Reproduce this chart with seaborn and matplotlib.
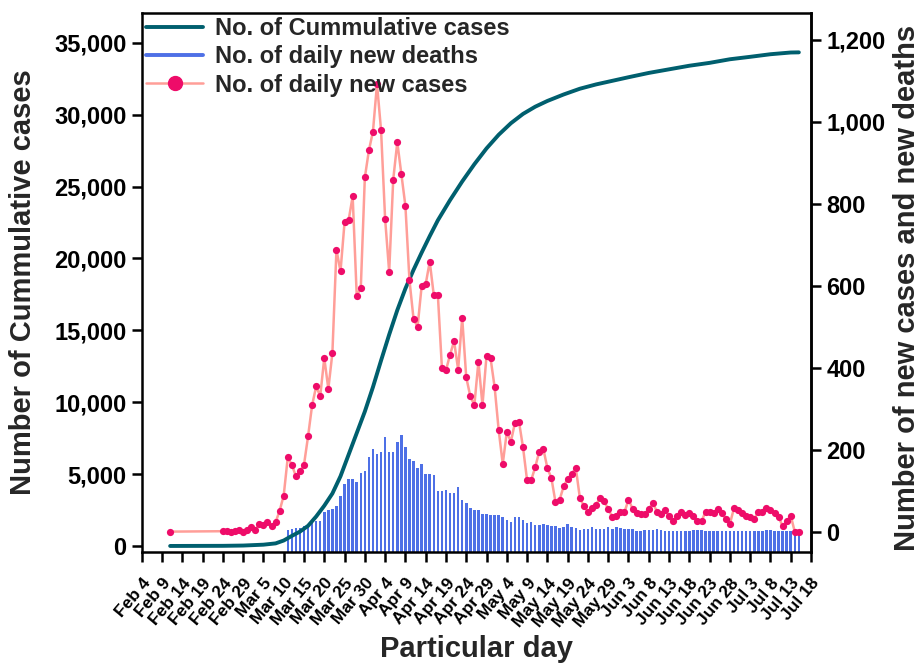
import numpy as np
import pandas as pd
import matplotlib
matplotlib.use("Agg")
import matplotlib.pyplot as plt
import matplotlib.dates as mdates
import seaborn as sns
from matplotlib.lines import Line2D
from matplotlib.ticker import FuncFormatter

sns.set_theme(style="ticks")
plt.rcParams['font.family'] = ['Liberation Sans', 'DejaVu Sans']
plt.rcParams['font.weight'] = 'bold'

# ---------------- data ----------------
case_dates = ["2020-02-11"] + list(pd.date_range("2020-02-24", "2020-07-15").strftime("%Y-%m-%d"))
daily_cases = [1,
    2, 3, 1, 2, 5, 1, 4, 12, 6, 20, 16, 24, 14, 24,
    52, 89, 182, 164, 136, 148, 164, 233, 309, 355, 331, 424, 349, 436,
    688, 635, 755, 760, 818, 576, 594, 864, 930, 976, 1092, 979, 763, 634, 859, 950, 873, 795,
    614, 520, 500, 599, 604, 659, 577, 578,
    400, 394, 432, 465, 396, 522, 377, 331, 309, 415, 309, 430, 423, 353, 248, 166, 244, 220,
    266, 269, 206, 126, 126, 158, 196, 203, 156, 131,
    73, 78, 111, 130, 141, 157, 84, 63, 50,
    58, 67, 83, 75, 56, 37, 38, 48, 48, 79,
    57, 46, 44, 44, 56, 71, 50, 44, 54, 38,
    28, 40, 48, 42, 46, 38, 28, 26, 50, 50,
    46, 57, 46, 32, 20, 58, 54, 46, 38, 37,
    32, 49, 49, 59, 53, 46, 37, 14, 26, 40, 0, 0]

death_dates = list(pd.date_range("2020-03-11", "2020-07-15").strftime("%Y-%m-%d"))
daily_deaths = [
    6, 7, 11, 10, 14, 19, 23, 28, 26, 48, 53, 56, 64,
    87, 118, 129, 130, 122, 145, 149, 182, 202, 191, 196, 231, 194, 196, 219, 237, 206, 179,
    174, 157, 166, 142, 141, 140,
    101, 101, 103, 95, 94, 110, 77, 71, 59, 54, 53, 45, 45, 41, 41, 42, 36, 30, 25, 37, 37,
    30, 23, 25, 18, 18, 19, 18, 15,
    15, 10, 13, 19, 12, 10, 6, 7, 8,
    13, 7, 7, 7, 13, 7, 12, 10, 8, 7,
    7, 3, 2, 5, 5, 5, 7, 5, 3, 3,
    3, 3, 3, 3, 3, 5, 5, 4, 3, 2,
    3, 3, 3, 3, 3, 3, 3, 3, 3, 3,
    3, 3, 3, 4, 4, 3, 2, 3, 3, 2, 3, 2]

cum_dates = ["2020-02-11", "2020-02-24", "2020-02-29", "2020-03-05", "2020-03-08", "2020-03-10",
             "2020-03-12", "2020-03-14", "2020-03-16", "2020-03-18", "2020-03-20", "2020-03-22",
             "2020-03-24", "2020-03-26", "2020-03-28", "2020-03-30", "2020-04-01", "2020-04-03",
             "2020-04-05", "2020-04-07", "2020-04-09", "2020-04-11", "2020-04-13", "2020-04-15",
             "2020-04-17", "2020-04-20", "2020-04-23", "2020-04-26", "2020-04-29", "2020-05-02",
             "2020-05-05", "2020-05-08", "2020-05-11", "2020-05-14", "2020-05-18", "2020-05-22",
             "2020-05-26", "2020-05-30", "2020-06-03", "2020-06-08", "2020-06-13", "2020-06-18",
             "2020-06-23", "2020-06-28", "2020-07-03", "2020-07-08", "2020-07-13", "2020-07-15"]
cum_cases = [1, 10, 30, 90, 180, 380,
             700, 1000, 1400, 2050, 2800, 3650,
             4850, 6350, 7850, 9350, 11050, 12900,
             14700, 16400, 17900, 19200, 20400, 21550,
             22650, 24050, 25350, 26550, 27650, 28600,
             29400, 30050, 30550, 30950, 31400, 31800,
             32100, 32350, 32600, 32900, 33150, 33400,
             33600, 33850, 34020, 34200, 34320, 34330]

left_ticks = [0, 5000, 10000, 15000, 20000, 25000, 30000, 35000]
right_ticks = [0, 200, 400, 600, 800, 1000, 1200]

cases_df = pd.DataFrame({"date": pd.to_datetime(case_dates), "cases": daily_cases})
cum_df = pd.DataFrame({"date": pd.to_datetime(cum_dates), "cum": cum_cases})
death_df = pd.DataFrame({"date": pd.to_datetime(death_dates), "deaths": daily_deaths})

# ---------------- styling ----------------
TEAL = "#005F6E"
BLUE = "#4E70E6"
SALMON = "#FF9E98"
PINK = "#EE0C69"
Y2_MIN, Y2_MAX = -48.7, 1266
Y1_MIN, Y1_MAX = -420, 37100

fig = plt.figure(figsize=(9.21, 6.63), dpi=100)
rect = [0.1539, 0.1674, 0.7267, 0.8137]
ax_bar = fig.add_axes(rect)
ax = fig.add_axes(rect, sharex=ax_bar)
ax2 = fig.add_axes(rect, sharex=ax_bar)
ax_bar.set_zorder(0)
ax.set_zorder(1)
ax2.set_zorder(2)
for a in (ax, ax2):
    a.patch.set_visible(False)

# bars (deaths) drawn from the bottom of the axis, on the right-hand scale
ax_bar.bar(death_df["date"], death_df["deaths"] - Y2_MIN, bottom=Y2_MIN,
           width=0.62, color=BLUE, linewidth=0)
ax_bar.set_ylim(Y2_MIN, Y2_MAX)
ax_bar.axis("off")

# cumulative line (left axis)
sns.lineplot(data=cum_df, x="date", y="cum", ax=ax, color=TEAL, linewidth=2.8)
ax.set_ylim(Y1_MIN, Y1_MAX)

# daily cases (right axis)
sns.lineplot(data=cases_df, x="date", y="cases", ax=ax2, color=SALMON, linewidth=1.8,
             marker="o", markersize=5.2, markerfacecolor=PINK, markeredgecolor=PINK,
             markeredgewidth=0)
ax2.set_ylim(Y2_MIN, Y2_MAX)

xmin, xmax = pd.Timestamp("2020-02-04"), pd.Timestamp("2020-07-18")
ax.set_xlim(xmin, xmax)
tick_dates = pd.date_range(xmin, xmax, freq="5D")

# axes layout
ax.yaxis.set_ticks_position("left")
ax2.yaxis.set_ticks_position("right")
ax2.yaxis.set_label_position("right")
ax2.xaxis.set_visible(False)
for s in ("top", "bottom", "left", "right"):
    ax.spines[s].set_visible(True)
    ax.spines[s].set_linewidth(1.8)
    ax.spines[s].set_color("black")
    ax2.spines[s].set_visible(False)
ax2.spines["right"].set_visible(True)
ax2.spines["right"].set_linewidth(1.8)
ax2.spines["right"].set_color("black")

ax.set_yticks(left_ticks)
ax.yaxis.set_major_formatter(FuncFormatter(lambda v, p: f"{int(v):,}"))
ax2.set_yticks(right_ticks)
ax2.yaxis.set_major_formatter(FuncFormatter(lambda v, p: f"{int(v):,}"))

ax.set_xticks(tick_dates)
ax.xaxis.set_major_formatter(FuncFormatter(
    lambda v, p: (lambda d: f"{d:%b} {d.day}")(mdates.num2date(v))))
ax.tick_params(axis="both", direction="out", length=7, width=1.8, colors="black")
ax2.tick_params(axis="y", direction="out", length=7, width=1.8, colors="black")
ax.tick_params(axis="y", labelsize=17, pad=4)
ax2.tick_params(axis="y", labelsize=17, pad=4)
for lab in ax.get_yticklabels() + ax2.get_yticklabels():
    lab.set_fontweight("bold")
ax.tick_params(axis="x", pad=10)
for lab in ax.get_xticklabels():
    lab.set_rotation(50)
    lab.set_ha("right")
    lab.set_va("top")
    lab.set_rotation_mode("anchor")
    lab.set_fontsize(12.5)
    lab.set_fontweight("bold")

ax.set_xlabel("Particular day", fontsize=21, fontweight="bold")
ax.xaxis.set_label_coords(0.5, -0.18)
ax.xaxis.label.set_va("center")
ax.set_ylabel("Number of Cummulative cases", fontsize=21, fontweight="bold")
ax.yaxis.set_label_coords(-0.177, 0.5)
ax.yaxis.label.set_va("center")
ax2.set_ylabel("Number of new cases and new deaths", fontsize=21, fontweight="bold")
ax2.yaxis.set_label_coords(1.143, 0.49)
ax2.yaxis.label.set_va("center")
ax.grid(False); ax2.grid(False)

handles = [
    Line2D([], [], color=TEAL, linewidth=2.8),
    Line2D([], [], color=BLUE, linewidth=2.8),
    Line2D([], [], color=SALMON, linewidth=1.8, marker="o", markersize=10,
           markerfacecolor=PINK, markeredgecolor=PINK),
]
labels = ["No. of Cummulative cases", "No. of daily new deaths", "No. of daily new cases"]
leg = ax2.legend(handles, labels, loc="upper left", bbox_to_anchor=(0.0, 1.0),
                 frameon=False, fontsize=17, handlelength=2.4, handletextpad=0.5,
                 borderaxespad=0.1, labelspacing=0.22, borderpad=0.1)
for t in leg.get_texts():
    t.set_fontweight("bold")

fig.savefig("out.png", dpi=100)
